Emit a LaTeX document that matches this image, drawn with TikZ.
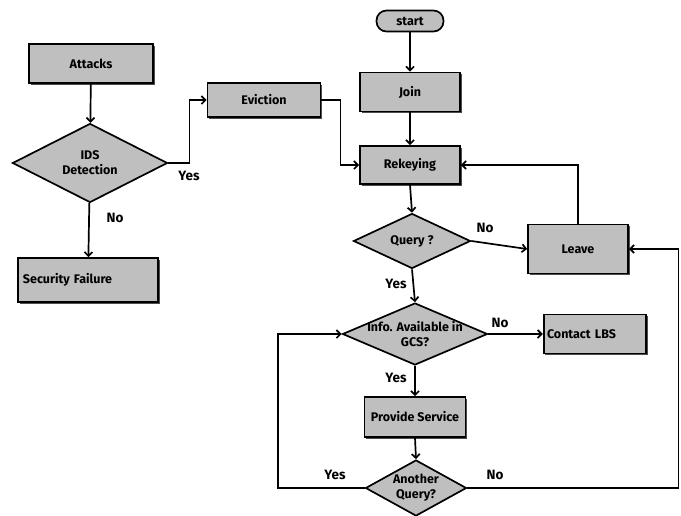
\documentclass[tikz,border=0pt]{standalone}
\usepackage{fontspec}
\setmainfont{Fira Sans}
\usetikzlibrary{shapes.geometric,arrows.meta,shadows}

\tikzset{
  box/.style={draw, line width=1.7pt, fill=gray!50, rectangle, minimum width=#1, drop shadow={shadow xshift=1.5pt, shadow yshift=-1.5pt, fill=black!70, opacity=1}},
  decision/.style={draw, line width=1.7pt, fill=gray!50, diamond, inner sep=0pt},
  lbl/.style={font=\bfseries\fontsize{13.5}{15}\selectfont},
  flow/.style={line width=1.7pt, -{Straight Barb[length=4pt,width=8pt]}}
}

\begin{document}
\begin{tikzpicture}[x=1pt,y=-1pt, font=\bfseries\fontsize{12.5}{15}\selectfont]
\useasboundingbox (0,0) rectangle (681,515);
% left part
\node[box=124pt, minimum height=39pt](attacks) at (91,63.5){Attacks};
\node[decision, minimum width=155pt, minimum height=79pt, label={[align=center]center:IDS\\Detection}](ids) at (90,163){};
\node[box=140pt, minimum height=44pt, text width=130pt, align=left](secfail) at (88,280){Security Failure};
\node[box=113pt, minimum height=34pt](evict) at (264,100){Eviction};
% main column
\node[draw, line width=1.7pt, fill=gray!50, rounded corners=10pt, minimum width=67pt, minimum height=21pt, inner sep=1pt](start) at (410,21){start};
\node[box=100pt, minimum height=39pt](join) at (410,92){Join};
\node[box=100pt, minimum height=38pt](rekey) at (410,165){Rekeying};
\node[decision, minimum width=117pt, minimum height=55pt, label={center:Query ?}](query) at (412,241){};
\node[box=100pt, minimum height=49pt](leave) at (578,249){Leave};
\node[decision, minimum width=145pt, minimum height=62pt, label={[align=center]center:Info. Available in\\GCS?}](info) at (415,334){};
\node[box=102pt, minimum height=39pt, text width=96pt, align=left](contact) at (595,334){Contact LBS};
\node[box=101pt, minimum height=40pt](provide) at (415,417){Provide Service};
\node[decision, minimum width=101pt, minimum height=56pt, label={[align=center]center:Another\\Query?}](another) at (416,488){};
% labels
\node[lbl](y1) at (189,176){Yes};
\node[lbl](n1) at (115,218){No};
\node[lbl](n2) at (485,228){No};
\node[lbl](y2) at (396,284){Yes};
\node[lbl](n3) at (500,323){No};
\node[lbl](y3) at (396,378){Yes};
\node[lbl](y4) at (335,475){Yes};
\node[lbl](n4) at (495,475){No};
% connectors
\draw[flow] (attacks) -- (ids);
\draw[flow] (ids) -- (secfail);
\draw[flow] (ids.east) -- ++(21,0) |- (evict.west);
\draw[flow] (evict.east) -- ++(19,0) |- (rekey.west);
\draw[flow] (start) -- (join);
\draw[flow] (join) -- (rekey);
\draw[flow] (rekey.south) -- (query.north);
\draw[flow] (query.east) -- (leave.west);
\draw[flow] (leave.north) |- (rekey.east);
\draw[flow] (query.south) -- (info.north);
\draw[flow] (info.east) -- (contact.west);
\draw[flow] (info.south) -- (provide.north);
\draw[flow] (provide.south) -- (another.north);
\draw[flow] (another.west) -- ++(-87,0) |- (info.west);
\draw[flow] (another.east) -- ++(211,0) |- (leave.east);
\end{tikzpicture}
\end{document}
